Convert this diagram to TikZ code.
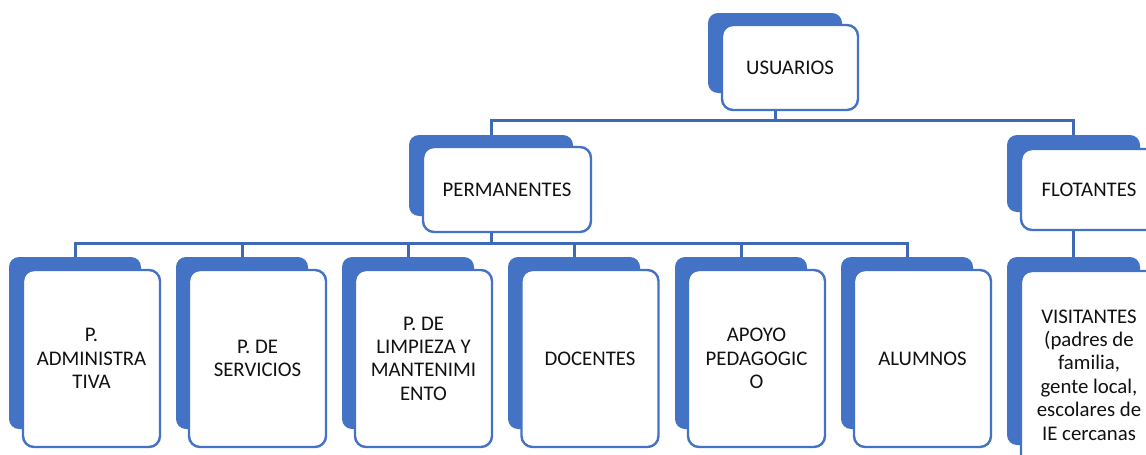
\documentclass[tikz,border=0pt]{standalone}
\usepackage{fontspec}
\setmainfont{Carlito}
\definecolor{obl}{HTML}{4472C4}
\definecolor{cbl}{HTML}{3F68B5}
\definecolor{txt}{HTML}{111111}
\begin{document}
\begin{tikzpicture}[x=1pt,y=-1pt,
  backbox/.style={fill=obl, draw=none, rounded corners=10pt, inner sep=0pt},
  frontbox/.style={fill=white, draw=obl, line width=2.4pt, rounded corners=11pt, inner sep=0pt, align=center, text=txt,
     font=\fontsize{20.8}{23.4}\selectfont},
  conn/.style={draw=cbl, line width=3pt}]
\clip (0,0) rectangle (1146,455);
\fill[white] (0,0) rectangle (1146,455);
% buses
\coordinate (busA) at (0,120);
\coordinate (busB) at (0,243);
% top
\node[backbox, minimum width=134pt, minimum height=80pt] (uB) at (775,53) {};
\node[frontbox, minimum width=136pt, minimum height=85pt] (u) at (790,67.5) {USUARIOS};
% level 2
\node[backbox, minimum width=164pt, minimum height=81pt] (pB) at (491,175.5) {};
\node[backbox, minimum width=133pt, minimum height=77pt] (fB) at (1073.5,173.5) {};
% level 3
\foreach \n/\x in {a/75,s/242,l/408,d/574,ap/741,al/907}{
  \node[backbox, minimum width=132pt, minimum height=172pt] (\n B) at (\x,343) {};
}
\node[backbox, minimum width=133pt, minimum height=188pt] (vB) at (1073.5,351) {};
% connectors
\draw[conn] (uB.center |- u.south) -- (uB.center |- busA) -| (pB.north);
\draw[conn] (uB.center |- busA) -| (fB.north);
\draw[conn] (pB.center |- busB) -| (aB.north);
\foreach \n in {s,l,d,ap}{
  \draw[conn] (pB.center |- busB) -| (\n B.north);
}
\draw[conn] (pB.center |- busB) -| (alB.north);
% front boxes
\node[frontbox, minimum width=168pt, minimum height=85pt] (p) at (507,189.5) {PERMANENTES};
\node[frontbox, minimum width=136pt, minimum height=81pt] (f) at (1089,189.5) {FLOTANTES};
\draw[conn] (pB.center |- p.south) -- (pB.center |- busB);
\draw[conn] (fB.center |- f.south) -- (vB.north);
\node[frontbox, minimum width=137pt, minimum height=177pt] (a) at (91.5,358.5) {P.\\ADMINISTRA\\TIVA};
\node[frontbox, minimum width=137pt, minimum height=177pt] (s) at (257.5,358.5) {P. DE\\SERVICIOS};
\node[frontbox, minimum width=137pt, minimum height=177pt] (l) at (423.5,358.5) {P. DE\\LIMPIEZA Y\\MANTENIMI\\ENTO};
\node[frontbox, minimum width=137pt, minimum height=177pt] (d) at (590,358.5) {DOCENTES};
\node[frontbox, minimum width=137pt, minimum height=177pt] (ap) at (756.5,358.5) {APOYO\\PEDAGOGIC\\O};
\node[frontbox, minimum width=137pt, minimum height=177pt] (al) at (922.5,358.5) {ALUMNOS};
\node[frontbox, minimum width=136pt, minimum height=208pt] (v) at (1089,375) {VISITANTES\\(padres de\\familia,\\gente local,\\escolares de\\IE cercanas};
\end{tikzpicture}
\end{document}
